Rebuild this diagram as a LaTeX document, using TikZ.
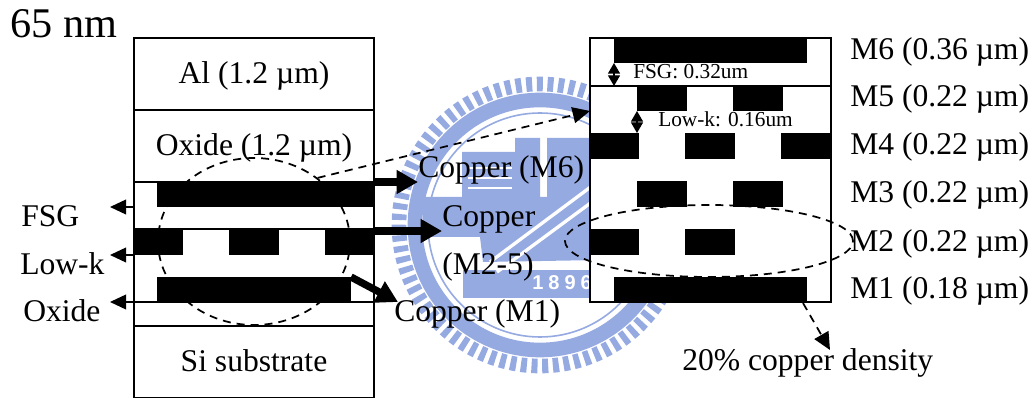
\documentclass[tikz,border=0pt]{standalone}
\usepackage{fontspec}
\setmainfont{Liberation Serif}
\newfontfamily\sealfont[LetterSpace=25]{Liberation Sans}
\usepackage{tikz}
\usetikzlibrary{arrows,arrows.meta,shapes.geometric}
\definecolor{sealblue}{RGB}{150,170,226}
\tikzset{
  layer/.style 2 args={draw, fill=white, anchor=north west, line width=1.1pt, inner sep=0pt, outer sep=0pt, minimum width=#1*0.75pt, minimum height=#2*0.75pt},
  bar/.style 2 args={fill=black, anchor=north west, inner sep=0pt, outer sep=0pt, minimum width=#1*0.75pt, minimum height=#2*0.75pt},
  big/.style={inner sep=0pt, font=\fontsize{23.7pt}{26pt}\selectfont},
  metal/.style={inner sep=0pt, anchor=base west, font=\fontsize{23.7pt}{26pt}\selectfont},
  small/.style={inner sep=0pt, anchor=base west, font=\fontsize{16pt}{18pt}\selectfont},
  dashline/.style={line width=1.3pt, dash pattern=on 6pt off 4.5pt},
  thickarrow/.style={-{Stealth[length=16pt,width=17pt,inset=0pt]}, line width=5.5pt},
  thinarrow/.style={-{Stealth[length=12pt,width=11pt,inset=0pt]}, line width=1.2pt},
  gaparrow/.style={{Stealth[length=8pt,width=9pt,inset=0pt]}-{Stealth[length=8pt,width=9pt,inset=0pt]}, line width=1pt}
}

\begin{document}
\begin{tikzpicture}[x=0.75pt,y=-0.75pt]
\useasboundingbox (0,0) rectangle (1035,398);

\draw[sealblue, line width=11pt, dash pattern=on 4.5pt off 3.5pt] (540,225) circle [radius=141];
\draw[sealblue, line width=11pt] (540,225) circle [radius=125];
\draw[sealblue, line width=1.2pt] (540,225) circle [radius=112];
\fill[sealblue] (423,197) -- (462,197) -- (462,152) -- (515,152) -- (515,138) -- (540,138) -- (540,197)
  -- (547,197) -- (547,138) -- (600,138) -- (600,260) -- (483,262) -- (480,237) -- (423,237) -- cycle;
\fill[sealblue] (463,270) rectangle (600,298);
\draw[white, line width=2.5pt] (490,262) -- (600,180);
\draw[white, line width=2.5pt] (497,272) -- (600,196);
\draw[white, line width=1.5pt] (468,168) -- (512,168) (468,178) -- (512,178) (468,188) -- (512,188);
\node[inner sep=0pt, white, anchor=base west, font=\fontsize{15pt}{16pt}\sealfont\bfseries] (60) at (532,290) {1896};

\node[layer={240}{72}] (1) at (134,38) {};
\node[layer={240}{72}] (2) at (134,110) {};
\node[layer={240}{120}] (3) at (134,182) {};
\node[layer={240}{24}] (4) at (134,302) {};
\node[layer={240}{72}] (5) at (134,326) {};

\node[layer={241}{48}] (6) at (590,38) {};
\node[layer={241}{216}] (7) at (590,86) {};

\node[draw, ellipse, dashline, inner sep=0pt, minimum width=192*0.75pt, minimum height=167*0.75pt] (8) at (254,241.5) {};
\node[draw, ellipse, dashline, inner sep=0pt, minimum width=288*0.75pt, minimum height=72*0.75pt] (9) at (709,241) {};

\node[bar={217}{25}] (10) at (157,182) {};
\node[bar={49}{26}] (11) at (134,229) {};
\node[bar={50}{26}] (12) at (229,229) {};
\node[bar={49}{26}] (13) at (325,229) {};
\node[bar={194}{26}] (14) at (157,277) {};

\node[bar={193}{25}] (20) at (614,38) {};
\node[bar={50}{24}] (21) at (637,87) {};
\node[bar={50}{24}] (22) at (733,87) {};
\node[bar={49}{26}] (23) at (590,133) {};
\node[bar={50}{26}] (24) at (685,133) {};
\node[bar={50}{26}] (25) at (781,133) {};
\node[bar={50}{26}] (26) at (637,181) {};
\node[bar={50}{26}] (27) at (733,181) {};
\node[bar={49}{26}] (28) at (590,229) {};
\node[bar={50}{26}] (29) at (685,229) {};
\node[bar={193}{26}] (30) at (614,277) {};

\node[inner sep=0pt, anchor=base west, font=\fontsize{31.7pt}{34pt}\selectfont] (31) at (10,38) {65 nm};
\node[big, anchor=base] (32) at (254,84) {Al (1.2 µm)};
\node[big, anchor=base] (33) at (254,156) {Oxide (1.2 µm)};
\node[big, anchor=base] (34) at (254,372) {Si substrate};
\node[big, anchor=base west] (35) at (21,227) {FSG};
\node[big, anchor=base west] (36) at (20,275) {Low-k};
\node[big, anchor=base west] (37) at (23,322) {Oxide};
\node[big, anchor=base west] (38) at (418,178) {Copper (M6)};
\node[big, anchor=base west] (39) at (442,227) {Copper};
\node[big, anchor=base west] (40) at (442,275) {(M2-5)};
\node[big, anchor=base west] (41) at (394,322) {Copper (M1)};
\node[big, anchor=base west] (42) at (682,371) {20\% copper density};

\node[metal] (43) at (850,60) {M6 (0.36 µm)};
\node[metal] (44) at (850,107) {M5 (0.22 µm)};
\node[metal] (45) at (850,155) {M4 (0.22 µm)};
\node[metal] (46) at (850,203) {M3 (0.22 µm)};
\node[metal] (47) at (850,252) {M2 (0.22 µm)};
\node[metal] (48) at (850,299) {M1 (0.18 µm)};

\node[small] (49) at (633,79) {FSG: 0.32um};
\node[small] (50) at (658,127) {Low-k: 0.16um};

\coordinate (51) at (110,207);
\coordinate (52) at (110,255);
\coordinate (53) at (110,302);
\coordinate (54) at (830,350);
\coordinate (55) at (374,231);
\coordinate (56) at (398,302);

\draw[line width=1.1pt] (11.north west) -- (13.north east);

\draw[thinarrow] (3.west |- 51) -- (51);
\draw[thinarrow] (3.west |- 52) -- (52);
\draw[thinarrow] (3.west |- 53) -- (53);

\draw[thickarrow] (10.north east) -- (38.west |- 10.north east);
\draw[thickarrow] (55) -- (39.west |- 55);
\draw[thickarrow] (14.north east) -- (56);

\draw[dashline, -{Stealth[length=13pt,width=12pt,inset=0pt]}] (8.45) -- (7.west |- 21.south);
\draw[dashline, -{Stealth[length=13pt,width=12pt,inset=0pt]}] (30.-8.4) -- (54);

\draw[gaparrow] (20.south west) -- (20.south west |- 7.north);
\draw[gaparrow] (21.south west) -- (21.south west |- 23.north);

\end{tikzpicture}
\end{document}
